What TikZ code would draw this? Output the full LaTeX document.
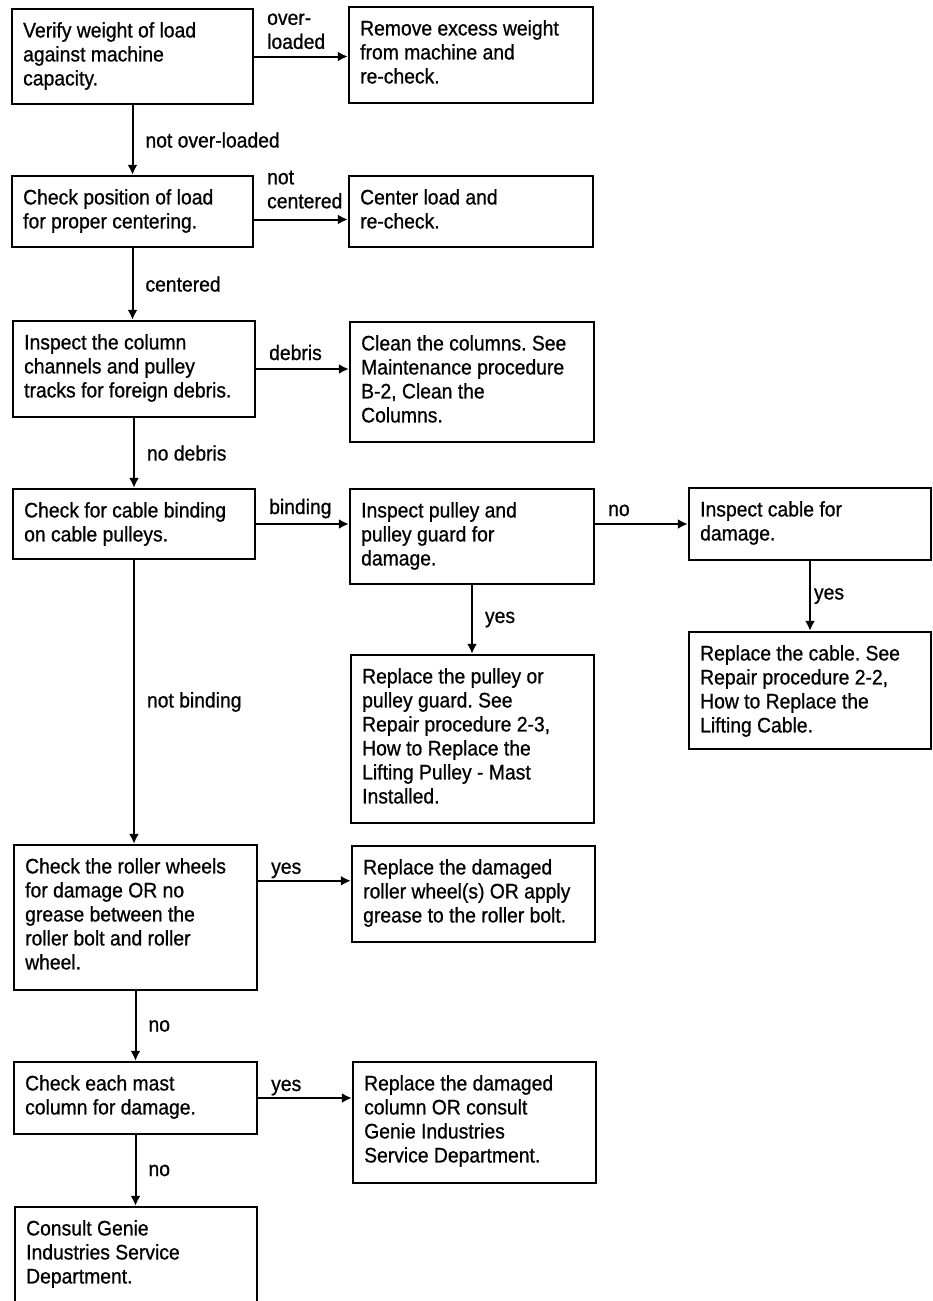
\documentclass[tikz,border=0pt]{standalone}
\usepackage{fontspec}
\setmainfont{Liberation Sans}[FakeStretch=0.92, FakeBold=0.8]
\usetikzlibrary{fit,arrows.meta}
\frenchspacing

\begin{document}
\begin{tikzpicture}
        [x=0.5pt, y=-0.5pt,
        box/.style={draw, line width=1.2pt, inner sep=0pt},
        txt/.style={anchor=north west, inner sep=0pt, align=left, font=\fontsize{10.5}{12}\selectfont},
        lbl/.style={inner sep=0pt, align=left, font=\fontsize{10.5}{12}\selectfont},
        edge/.style={line width=1pt, -{Latex[length=5pt,width=5pt]}}]

        \useasboundingbox (0,0) rectangle (932,1301);

        % boxes, left column
        \node[box, fit={(12,9) (253,104)}] (verify) {};
        \node[box, fit={(12,176) (253,247)}] (center) {};
        \node[box, fit={(13,321) (255,417)}] (inspect) {};
        \node[box, fit={(13,489) (255,559)}] (binding) {};
        \node[box, fit={(14,845) (257,990)}] (roller) {};
        \node[box, fit={(14,1062) (257,1134)}] (mast) {};
        \node[box, fit={(15,1207) (257,1310)}] (consult) {};

        % boxes, right columns
        \node[box, fit={(349,7) (593,103)}] (remove) {};
        \node[box, fit={(349,176) (593,247)}] (recenter) {};
        \node[box, fit={(350,322) (594,442)}] (clean) {};
        \node[box, fit={(350,489) (594,584)}] (pulley) {};
        \node[box, fit={(351,655) (594,823)}] (newpulley) {};
        \node[box, fit={(689,488) (931,560)}] (cable) {};
        \node[box, fit={(689,632) (931,749)}] (newcable) {};
        \node[box, fit={(352,846) (595,942)}] (newroller) {};
        \node[box, fit={(353,1062) (596,1183)}] (newcolumn) {};

        % texts in the boxes
        \node[txt] (verify-t) at ([shift={(12,14)}]verify.north west) {Verify weight of load\\against machine\\capacity.};
        \node[txt] (center-t) at ([shift={(12,14)}]center.north west) {Check position of load\\for proper centering.};
        \node[txt] (inspect-t) at ([shift={(12,14)}]inspect.north west) {Inspect the column\\channels and pulley\\tracks for foreign debris.};
        \node[txt] (binding-t) at ([shift={(12,14)}]binding.north west) {Check for cable binding\\on cable pulleys.};
        \node[txt] (roller-t) at ([shift={(12,14)}]roller.north west) {Check the roller wheels\\for damage OR no\\grease between the\\roller bolt and roller\\wheel.};
        \node[txt] (mast-t) at ([shift={(12,14)}]mast.north west) {Check each mast\\column for damage.};
        \node[txt] (consult-t) at ([shift={(12,14)}]consult.north west) {Consult Genie\\Industries Service\\Department.};
        \node[txt] (remove-t) at ([shift={(12,14)}]remove.north west) {Remove excess weight\\from machine and\\re-check.};
        \node[txt] (recenter-t) at ([shift={(12,14)}]recenter.north west) {Center load and\\re-check.};
        \node[txt] (clean-t) at ([shift={(12,14)}]clean.north west) {Clean the columns. See\\Maintenance procedure\\B-2, Clean the\\Columns.};
        \node[txt] (pulley-t) at ([shift={(12,14)}]pulley.north west) {Inspect pulley and\\pulley guard for\\damage.};
        \node[txt] (newpulley-t) at ([shift={(12,14)}]newpulley.north west) {Replace the pulley or\\pulley guard. See\\Repair procedure 2-3,\\How to Replace the\\Lifting Pulley - Mast\\Installed.};
        \node[txt] (cable-t) at ([shift={(12,14)}]cable.north west) {Inspect cable for\\damage.};
        \node[txt] (newcable-t) at ([shift={(12,14)}]newcable.north west) {Replace the cable. See\\Repair procedure 2-2,\\How to Replace the\\Lifting Cable.};
        \node[txt] (newroller-t) at ([shift={(12,14)}]newroller.north west) {Replace the damaged\\roller wheel(s) OR apply\\grease to the roller bolt.};
        \node[txt] (newcolumn-t) at ([shift={(12,14)}]newcolumn.north west) {Replace the damaged\\column OR consult\\Genie Industries\\Service Department.};

        % down the left column
        \draw[edge] (verify.south) -- (verify.south |- center.north) node[lbl, midway, right, xshift=6pt] {not over-loaded};
        \draw[edge] (center.south) -- (center.south |- inspect.north) node[lbl, midway, right, xshift=6pt] {centered};
        \draw[edge] (inspect.south) -- (inspect.south |- binding.north) node[lbl, midway, right, xshift=6pt] {no debris};
        \draw[edge] (binding.south) -- (binding.south |- roller.north) node[lbl, midway, right, xshift=6pt] {not binding};
        \draw[edge] (roller.south) -- (roller.south |- mast.north) node[lbl, midway, right, xshift=6pt] {no};
        \draw[edge] (mast.south) -- (mast.south |- consult.north) node[lbl, midway, right, xshift=6pt] {no};

        % across to the right
        \draw[edge] (verify.east) -- (verify.east -| remove.west) node[lbl, pos=0, anchor=south west, xshift=6pt, yshift=3.2pt] {over-\\loaded};
        \draw[edge] ([yshift=-4pt]center.east) -- ([yshift=-4pt]center.east -| recenter.west) node[lbl, pos=0, anchor=south west, xshift=6pt, yshift=5pt] {not\\centered};
        \draw[edge] (inspect.east) -- (inspect.east -| clean.west) node[lbl, pos=0, anchor=base west, xshift=6pt, yshift=4.5pt] {debris};
        \draw[edge] (binding.east) -- (binding.east -| pulley.west) node[lbl, pos=0, anchor=base west, xshift=6pt, yshift=5pt] {binding};
        \draw[edge] (binding.east -| pulley.east) -- (binding.east -| cable.west) node[lbl, pos=0, anchor=base west, xshift=6pt, yshift=4pt] {no};
        \draw[edge] ([yshift=-18.5pt]roller.north east) -- ([yshift=-18.5pt]roller.north east -| newroller.west) node[lbl, pos=0, anchor=base west, xshift=6pt, yshift=3.5pt] {yes};
        \draw[edge] (mast.east) -- (mast.east -| newcolumn.west) node[lbl, pos=0, anchor=base west, xshift=6pt, yshift=3.5pt] {yes};

        % down from the pulley and cable checks
        \draw[edge] (pulley.south) -- (pulley.south |- newpulley.north) node[lbl, midway, right, xshift=6pt] {yes};
        \draw[edge] (cable.south) -- (cable.south |- newcable.north) node[lbl, midway, right, xshift=1.5pt] {yes};

\end{tikzpicture}
\end{document}
